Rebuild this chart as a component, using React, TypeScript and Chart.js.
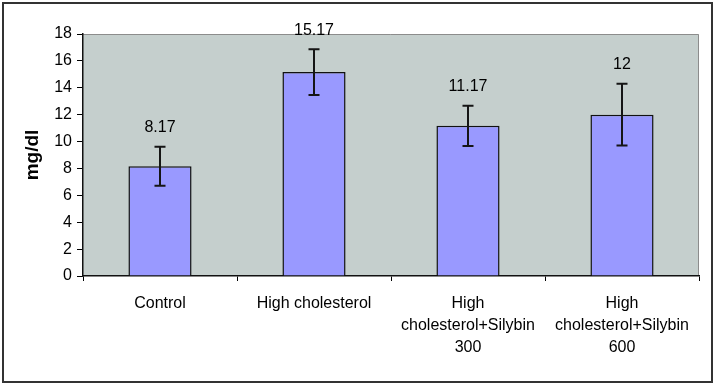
import React, { useEffect, useRef } from "react";
import { Chart, registerables } from "chart.js";

Chart.register(...registerables);

const categories: (string | string[])[] = [
  "Control",
  "High cholesterol",
  ["High", "cholesterol+Silybin", "300"],
  ["High", "cholesterol+Silybin", "600"],
];
const means = [8.17, 15.17, 11.17, 12];
const errors = [1.45, 1.7, 1.5, 2.3];
const yTicks = { min: 0, max: 18, step: 2 };
const yTitle = "mg/dl";

const FONT = "'Liberation Sans', Arial, Helvetica, sans-serif";

export default function App() {
  const ref = useRef<HTMLCanvasElement | null>(null);

  useEffect(() => {
    document.body.style.margin = "0";
    const canvas = ref.current;
    if (!canvas) return;

    const bgPlugin = {
      id: "plotBg",
      beforeDraw(chart: any) {
        const { ctx, chartArea } = chart;
        ctx.save();
        ctx.fillStyle = "#ffffff";
        ctx.fillRect(0, 0, chart.width, chart.height);
        ctx.fillStyle = "#C5CFCD";
        ctx.fillRect(chartArea.left, chartArea.top, chartArea.right - chartArea.left, chartArea.bottom - chartArea.top);
        ctx.strokeStyle = "#8c8c8c";
        ctx.lineWidth = 1;
        ctx.beginPath();
        ctx.moveTo(chartArea.left, chartArea.top + 0.5);
        ctx.lineTo(chartArea.right - 0.5, chartArea.top + 0.5);
        ctx.lineTo(chartArea.right - 0.5, chartArea.bottom);
        ctx.stroke();
        ctx.restore();
      },
      afterDraw(chart: any) {
        const { ctx } = chart;
        ctx.save();
        ctx.strokeStyle = "#333333";
        ctx.lineWidth = 2;
        ctx.strokeRect(3, 3, 709, 379);
        ctx.restore();
      },
    };

    const errPlugin = {
      id: "errBars",
      afterDatasetsDraw(chart: any) {
        const { ctx } = chart;
        const meta = chart.getDatasetMeta(0);
        const yScale = chart.scales.y;
        ctx.save();
        meta.data.forEach((bar: any, i: number) => {
          const x = bar.x;
          const yt = yScale.getPixelForValue(means[i] + errors[i]);
          const yb = yScale.getPixelForValue(means[i] - errors[i]);
          ctx.strokeStyle = "#151515";
          ctx.lineWidth = 2;
          ctx.beginPath();
          ctx.moveTo(x, yt);
          ctx.lineTo(x, yb);
          ctx.moveTo(x - 5.5, yt);
          ctx.lineTo(x + 5.5, yt);
          ctx.moveTo(x - 5.5, yb);
          ctx.lineTo(x + 5.5, yb);
          ctx.stroke();
          ctx.fillStyle = "#000000";
          ctx.font = `16px ${FONT}`;
          ctx.textAlign = "center";
          ctx.textBaseline = "middle";
          ctx.fillText(String(means[i]), x, yt - 19);
        });
        ctx.restore();
      },
    };

    const chart = new Chart(canvas, {
      type: "bar",
      data: {
        labels: categories as any,
        datasets: [
          {
            data: means,
            backgroundColor: "#9999FF",
            borderColor: "#111111",
            borderWidth: 1.5,
            barPercentage: 0.41,
            categoryPercentage: 1,
          },
        ],
      },
      options: {
        responsive: false,
        animation: false,
        devicePixelRatio: 1,
        layout: { padding: { top: 34, right: 17, left: 0, bottom: 0 } },
        plugins: { legend: { display: false }, tooltip: { enabled: false } },
        scales: {
          x: {
            afterFit(s: any) {
              s.height = 108;
            },
            grid: { offset: true, drawOnChartArea: false, tickLength: 5, color: "#000000", lineWidth: 1 },
            border: { display: true, color: "#111111", width: 1.5 },
            ticks: {
              padding: 11,
              color: "#000000",
              maxRotation: 0,
              autoSkip: false,
              font: { family: FONT, size: 16, lineHeight: 1.4 },
            },
          },
          y: {
            min: yTicks.min,
            max: yTicks.max,
            afterFit(s: any) {
              s.width = 83;
            },
            grid: { drawOnChartArea: false, tickLength: 6, color: "#000000" },
            border: { display: true, color: "#111111", width: 1.5 },
            ticks: {
              stepSize: yTicks.step,
              padding: 5,
              color: "#000000",
              font: { family: FONT, size: 16 },
            },
            title: {
              display: true,
              text: yTitle,
              color: "#000000",
              padding: { top: 21, bottom: 0 },
              font: { family: FONT, size: 19, weight: "bold" },
            },
          },
        },
      },
      plugins: [bgPlugin, errPlugin],
    });

    return () => chart.destroy();
  }, []);

  return (
    <div style={{ width: 716, height: 384 }}>
      <canvas ref={ref} width={716} height={384} style={{ display: "block", width: 716, height: 384 }} />
    </div>
  );
}
